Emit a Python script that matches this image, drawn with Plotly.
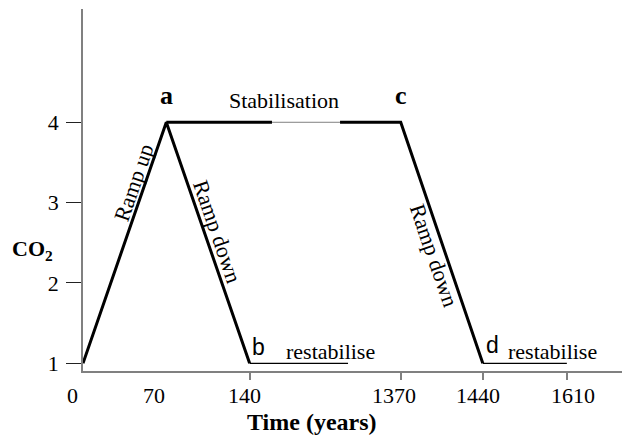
import numpy as np
import plotly.graph_objects as go

# broken, schematic time axis: tick labels and where they sit on the axis
time_ticks = [0, 70, 140, 1370, 1440, 1610]
tick_pos = [0, 1, 2, 3.814, 4.799, 5.808]

# CO2 pathway (schematic)
ramp_years = [0, 70, 140]
ramp_co2 = [1, 4, 1]
stab_years_a = [70, 322]
stab_co2_a = [4, 4]
stab_gap_years = [322, 876]
stab_gap_co2 = [4, 4]
late_years = [876, 1370, 1440]
late_co2 = [4, 4, 1]
restab1_years = [140, 941]
restab2_years = [1440, 1610]
restab_co2 = [1, 1]

points = {"a": (70, 4), "b": (140, 1), "c": (1370, 4), "d": (1440, 1)}


def pos(t):
    return np.interp(t, time_ticks, tick_pos)


SERIF = "Liberation Serif"
SANS = "Liberation Sans"
GREY = "#808080"

fig = go.Figure()


def line(years, vals, width, color):
    fig.add_trace(go.Scatter(x=pos(years), y=vals, mode="lines",
                             line=dict(color=color, width=width),
                             hoverinfo="skip", showlegend=False))


line(ramp_years, ramp_co2, 3, "black")
line(stab_years_a, stab_co2_a, 3, "black")
line(stab_gap_years, stab_gap_co2, 1, GREY)
line(late_years, late_co2, 3, "black")
line(restab1_years, restab_co2, 1.2, "black")
line(restab2_years, restab_co2, 1.2, "black")

ann = []

# x tick labels (the original labels sit a little off their ticks)
label_shift = [-10.5, -12, -5.5, -6.5, -4.5, 6.5]
for t, s in zip(time_ticks, label_shift):
    ann.append(dict(x=pos(t), y=0, xref="x", yref="paper", text=str(t),
                    showarrow=False, xshift=s, yshift=-24.7, yanchor="middle",
                    font=dict(family=SERIF, size=22, color="black")))

# point letters
for k in ["a", "c"]:
    t, v = points[k]
    ann.append(dict(x=pos(t), y=v, text=f"<b>{k}</b>", showarrow=False,
                    xshift=0.5, yshift=27, font=dict(family=SERIF, size=26, color="black")))
for k, xs, ys in [("b", 9, 16.3), ("d", 9.5, 18.7)]:
    t, v = points[k]
    ann.append(dict(x=pos(t), y=v, text=k, showarrow=False, xshift=xs, yshift=ys,
                    font=dict(family=SANS, size=23, color="black")))

# phase labels
ann.append(dict(x=(pos(70) + pos(1370)) / 2, y=4, text="Stabilisation", showarrow=False,
                yshift=21.6, font=dict(family=SERIF, size=22, color="black")))
for k, xs in [("b", 80.5), ("d", 70)]:
    t, v = points[k]
    ann.append(dict(x=pos(t), y=v, text="restabilise", showarrow=False,
                    xshift=xs, yshift=11.6, font=dict(family=SERIF, size=22, color="black")))


def along(t0, v0, t1, v1, f):
    return pos(t0) + f * (pos(t1) - pos(t0)), v0 + f * (v1 - v0)


for (t0, v0, t1, v1, f, xs, ang, txt) in [
    (0, 1, 70, 4, 0.752, -12.3, -71, "Ramp up"),
    (70, 4, 140, 1, 0.453, 13.3, 71, "Ramp down"),
    (1370, 4, 1440, 1, 0.551, -11.7, 71, "Ramp down"),
]:
    x, y = along(t0, v0, t1, v1, f)
    ann.append(dict(x=x, y=y, text=txt, showarrow=False, xshift=xs, textangle=ang,
                    font=dict(family=SERIF, size=22, color="black")))

# axis titles
ann.append(dict(x=0, y=2.41, xref="paper", yref="y", text="<b>CO<sub>2</sub></b>",
                showarrow=False, xshift=-50.5, xanchor="center",
                font=dict(family=SERIF, size=22, color="black")))
ann.append(dict(x=(312 - 83) / 547, y=0, xref="paper", yref="paper", text="<b>Time (years)</b>",
                showarrow=False, yshift=-50.8, yanchor="middle", xanchor="center",
                font=dict(family=SERIF, size=24, color="black")))

# the page puts the plot 8px in from the top-left corner, so the figure is
# 8px smaller than the window and the left/top margins are trimmed by 8px
fig.update_layout(
    width=622, height=429,
    margin=dict(l=75, r=0, t=1, b=66),
    plot_bgcolor="white", paper_bgcolor="white",
    annotations=ann,
    xaxis=dict(range=[0, 6.566], showgrid=False, zeroline=False,
               showline=True, linecolor=GREY, linewidth=1.5,
               tickvals=[pos(t) for t in time_ticks[2:]], ticks="outside",
               ticklen=7, tickcolor=GREY, tickwidth=1.5, showticklabels=False),
    yaxis=dict(range=[0.904, 5.41], showgrid=False, zeroline=False,
               showline=True, linecolor=GREY, linewidth=1.5,
               tickvals=[1, 2, 3, 4], ticks="outside", ticklen=15,
               tickcolor="#222", tickwidth=1, ticklabelstandoff=3,
               tickfont=dict(family=SERIF, size=22, color="black")),
)

fig.write_html("out.html")
